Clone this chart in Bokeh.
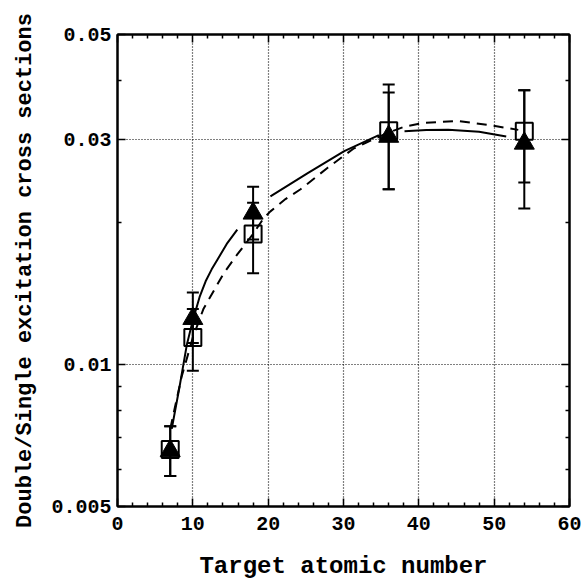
import math
from bokeh.plotting import figure
from bokeh.models import (ColumnDataSource, Whisker, FixedTicker, LinearAxis, LogAxis,
                          Range1d)
from bokeh.embed import file_html
from bokeh.resources import INLINE

# ---------------- data ----------------
Z = [7, 10, 18, 36, 54]
tri = [0.00656, 0.0125, 0.0209, 0.0304, 0.0294]
tri_lo = [0.0058, 0.0111, 0.0184, 0.0235, 0.0243]
tri_hi = [0.0074, 0.0142, 0.0238, 0.0377, 0.0381]
sq = [0.0066, 0.0114, 0.0189, 0.03125, 0.0312]
sq_lo = [0.0058, 0.0097, 0.0156, 0.0235, 0.0214]
sq_hi = [0.0074, 0.0131, 0.0220, 0.0392, 0.0381]

nan = float("nan")
solid_x = [7.2, 8.2, 9.2, 10.0, 10.9, 11.7, 12.5, 13.2, 14.5, 15.9, nan, 20.3, 25.2, 30.1,
           34.7, nan, 38.1, 41.0, 43.9, 48.0, 51.6]
solid_y = [0.0073, 0.0089, 0.0110, 0.0124, 0.0139, 0.0150, 0.0159, 0.0166, 0.0180, 0.0193,
           nan, 0.0227, 0.0254, 0.0283, 0.0306, nan, 0.0312, 0.03138, 0.0314, 0.0311, 0.0304]
dash_x = [7.0, 8.5, 10.0, 11.4, 14.1, 15.9, 18.0, 19.4, 20.3, 22.3, 24.3, 27.9, 31.4, 34.0,
          36.0, 38.1, 40.7, 45.2, 49.6, 53.2]
dash_y = [0.0073, 0.0094, 0.0114, 0.0131, 0.0156, 0.0171, 0.0189, 0.0204, 0.0211, 0.0224,
          0.0235, 0.0261, 0.0287, 0.0300, 0.0310, 0.0319, 0.0325, 0.0328, 0.0321, 0.0314]

x_major = [0, 10, 20, 30, 40, 50, 60]
x_minor = [2, 4, 6, 8, 12, 14, 16, 18, 22, 24, 26, 28, 32, 34, 36, 38, 42, 44, 46, 48,
           52, 54, 56, 58]
y_major = [0.005, 0.01, 0.03, 0.05]
y_minor = [0.006, 0.007, 0.008, 0.009, 0.02, 0.04]
x_grid = [10, 20, 30, 40, 50]
y_grid = [0.01, 0.03]

FONT = "Liberation Mono"

p = figure(width=582, height=582, output_backend="svg", toolbar_location=None,
           y_axis_type="log", x_range=Range1d(0, 60), y_range=Range1d(0.005, 0.05),
           min_border_left=117, min_border_right=13, min_border_top=34,
           min_border_bottom=73)
p.background_fill_color = "white"
p.border_fill_color = "white"
p.outline_line_color = "black"
p.outline_line_width = 2

# grid
p.xgrid.ticker = FixedTicker(ticks=x_grid)
p.ygrid.ticker = FixedTicker(ticks=y_grid)
for g in (p.xgrid, p.ygrid):
    g.grid_line_color = "black"
    g.grid_line_dash = "1 2"
    g.grid_line_width = 1.2

def style(ax):
    ax.axis_line_color = "black"
    ax.axis_line_width = 2
    ax.major_tick_in = 8
    ax.major_tick_out = 0
    ax.minor_tick_in = 4
    ax.minor_tick_out = 0
    ax.major_tick_line_width = 1.5
    ax.minor_tick_line_width = 1.5
    ax.major_label_text_font = FONT
    ax.major_label_text_font_style = "bold"
    ax.major_label_text_font_size = "20px"
    ax.major_label_text_color = "black"
    ax.axis_label_text_font = FONT
    ax.axis_label_text_font_style = "bold"
    ax.axis_label_text_color = "black"

xa = p.xaxis[0]
xa.ticker = FixedTicker(ticks=x_major, minor_ticks=x_minor)
style(xa)
xa.axis_label = "Target atomic number"
xa.axis_label_text_font_size = "24px"
xa.major_label_standoff = 10
xa.axis_label_standoff = 20

ya = p.yaxis[0]
ya.ticker = FixedTicker(ticks=y_major, minor_ticks=y_minor)
style(ya)
ya.axis_label = "Double/Single excitation cross sections"
ya.axis_label_text_font_size = "22px"
ya.major_label_standoff = 6
ya.axis_label_standoff = 10
ya.major_label_overrides = {0.005: "0.005", 0.01: "0.01", 0.03: "0.03", 0.05: "0.05"}

top = LinearAxis(ticker=FixedTicker(ticks=x_major, minor_ticks=x_minor))
style(top)
top.major_label_overrides = {t: "" for t in x_major}
top.major_label_standoff = 0
p.add_layout(top, "above")
right = LogAxis(ticker=FixedTicker(ticks=y_major, minor_ticks=y_minor))
style(right)
right.major_label_overrides = {t: "" for t in y_major}
right.major_label_standoff = 0
p.add_layout(right, "right")

# curves
p.line(solid_x, solid_y, line_color="black", line_width=2)
p.line(dash_x, dash_y, line_color="black", line_width=2, line_dash="10 7")

# error bars
src = ColumnDataSource(dict(x=Z, tri=tri, tlo=tri_lo, thi=tri_hi, sq=sq, slo=sq_lo, shi=sq_hi))
for lo, hi in (("tlo", "thi"), ("slo", "shi")):
    w = Whisker(source=src, base="x", lower=lo, upper=hi, dimension="height",
                line_color="black", line_width=2)
    w.upper_head.size = 12
    w.lower_head.size = 12
    w.upper_head.line_width = 2
    w.lower_head.line_width = 2
    p.add_layout(w)

p.scatter("x", "sq", source=src, marker="square", size=17, fill_color=None,
          line_color="black", line_width=2)
p.scatter("x", "tri", source=src, marker="triangle", size=20, fill_color="black",
          line_color="black", line_width=1)

open("out.html", "w").write(file_html(p, INLINE))
